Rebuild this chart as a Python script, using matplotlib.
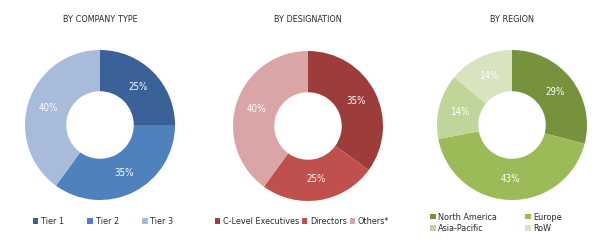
import matplotlib
matplotlib.use('Agg')
import matplotlib.pyplot as plt
from matplotlib.patches import Patch
from matplotlib import font_manager

names = {f.name for f in font_manager.fontManager.ttflist}
if 'Liberation Sans Narrow' in names:
    plt.rcParams['font.family'] = ['Liberation Sans Narrow', 'DejaVu Sans']
else:
    plt.rcParams['font.family'] = ['DejaVu Sans']
    plt.rcParams['font.stretch'] = 'condensed'

# data
company_labels = ['Tier 1', 'Tier 2', 'Tier 3']
company_values = [25, 35, 40]
company_colors = ['#3B6199', '#4F81BD', '#A8BBDA']

designation_labels = ['C-Level Executives', 'Directors', 'Others*']
designation_values = [35, 25, 40]
designation_colors = ['#9C3D3B', '#C0504D', '#D9A5A7']

region_labels = ['North America', 'Europe', 'Asia-Pacific', 'RoW']
region_values = [29, 43, 14, 14]
region_colors = ['#76923C', '#9BBB59', '#C0D59A', '#D8E4C0']

W, H = 600, 240
R = 75  # outer radius in px
fig = plt.figure(figsize=(6, 2.4), dpi=100)
text_color = '#2b2b2b'


def donut(cx, cy, values, colors, title):
    half = 85
    ax = fig.add_axes([(cx - half) / W, (H - cy - half) / H, 2 * half / W, 2 * half / H])
    ax.pie(values, colors=colors, startangle=90, counterclock=False, radius=1,
           wedgeprops=dict(width=0.55, edgecolor='none'),
           autopct='%d%%', pctdistance=0.72,
           textprops=dict(color='white', fontsize=7))
    lim = half / R
    ax.set_xlim(-lim, lim)
    ax.set_ylim(-lim, lim)
    ax.set_aspect('equal')
    ax.axis('off')
    fig.text(cx / W, 1 - 20 / H, title, ha='center', va='center',
             fontsize=6.5, color=text_color)


def legend(labels, colors, ncol, leg_x, leg_y, colspacing):
    handles = [Patch(facecolor=c, edgecolor='none') for c in colors]
    fig.legend(handles, labels, loc='center', ncol=ncol,
               bbox_to_anchor=(leg_x / W, 1 - leg_y / H), frameon=False,
               fontsize=6.5, labelcolor=text_color, handlelength=0.6,
               handleheight=0.6, handletextpad=0.3, columnspacing=colspacing,
               labelspacing=0.3, borderpad=0)


donut(100, 125, company_values, company_colors, 'BY COMPANY TYPE')
donut(308, 126, designation_values, designation_colors, 'BY DESIGNATION')
donut(512, 125, region_values, region_colors, 'BY REGION')

legend(company_labels, company_colors, 3, 103, 222, 2.6)
legend(designation_labels, designation_colors, 3, 302, 222, 0.3)
# matplotlib fills legend columns first; reorder so rows read NA/Europe, AP/RoW
order = [0, 2, 1, 3]
legend([region_labels[i] for i in order], [region_colors[i] for i in order],
       2, 496, 223, 3.1)

fig.savefig('out.png', dpi=100)
